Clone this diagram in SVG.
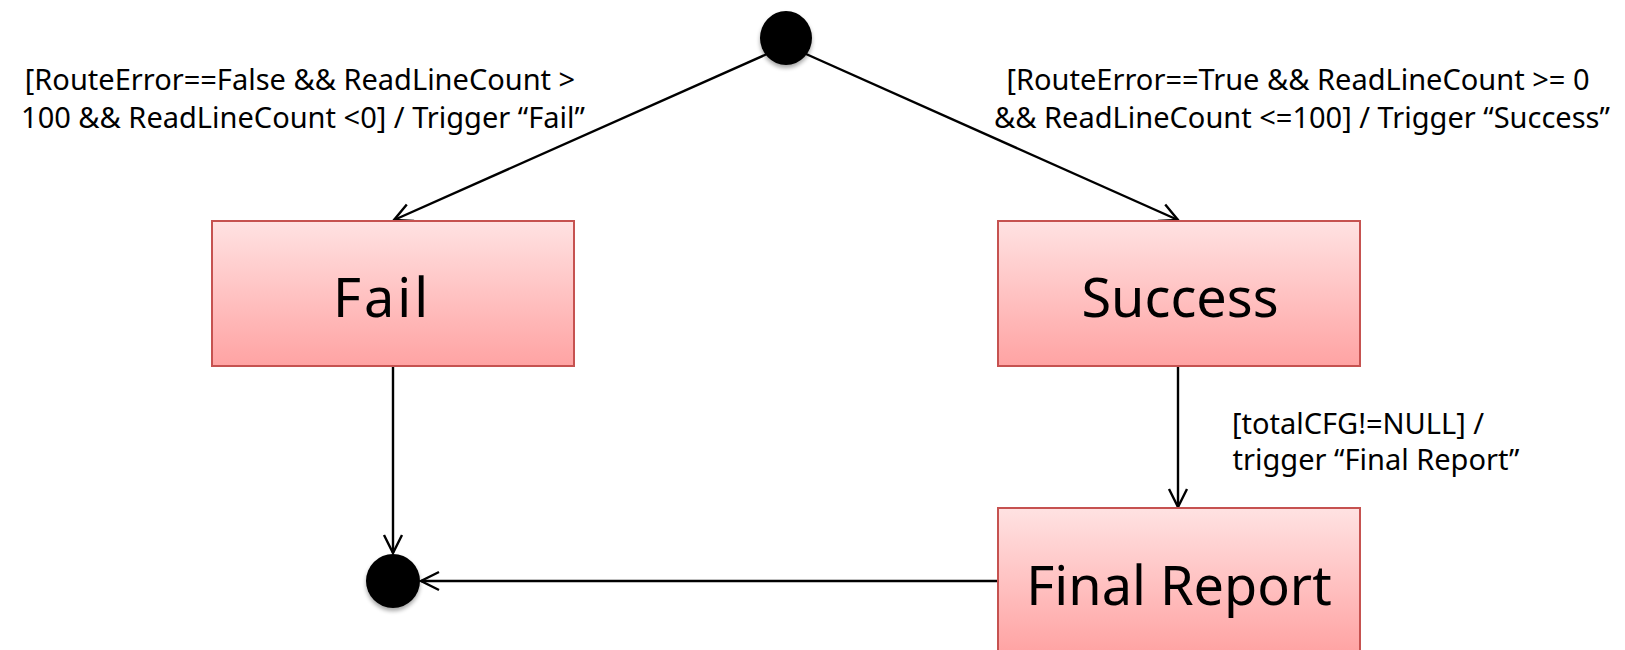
<svg xmlns="http://www.w3.org/2000/svg" width="1625" height="650" viewBox="0 0 1625 650">
<style>
.state rect{fill:url(#g);stroke:#C65250;stroke-width:2}
.state text{font-family:"Noto Sans",sans-serif;font-size:54px;fill:#000;text-anchor:middle}
.lbl{font-family:"Noto Sans",sans-serif;font-size:29px;fill:#000;text-anchor:middle}
.conn line{stroke:#000;stroke-width:2.4;fill:none}
.dot{fill:#000}
</style>
<defs>
<linearGradient id="g" x1="0" y1="0" x2="0" y2="1">
<stop offset="0" stop-color="#FFE2E2"/>
<stop offset="1" stop-color="#FFA3A3"/>
</linearGradient>
<marker id="a" viewBox="0 0 24 24" refX="21" refY="12" markerWidth="24" markerHeight="24" markerUnits="userSpaceOnUse" orient="auto">
<path d="M3,3 L21,12 L3,21" fill="none" stroke="#000" stroke-width="2.4"/>
</marker>
<filter id="sh" x="-30%" y="-30%" width="160%" height="160%">
<feGaussianBlur in="SourceAlpha" stdDeviation="2"/>
<feOffset dy="3"/>
<feComponentTransfer><feFuncA type="linear" slope="0.35"/></feComponentTransfer>
<feMerge><feMergeNode/><feMergeNode in="SourceGraphic"/></feMerge>
</filter>
</defs>
<rect width="1625" height="650" fill="#fff"/>
<g id="connectors" class="conn">
<line x1="767" y1="54" x2="394" y2="220" marker-end="url(#a)"/>
<line x1="806" y1="54" x2="1178" y2="220" marker-end="url(#a)"/>
<line x1="393" y1="366" x2="393" y2="553" marker-end="url(#a)"/>
<line x1="1178" y1="366" x2="1178" y2="507" marker-end="url(#a)"/>
<line x1="998" y1="581" x2="421" y2="581" marker-end="url(#a)"/>
</g>
<g id="labels">
<text class="lbl" x="300" y="90">[RouteError==False &amp;&amp; ReadLineCount &gt;</text>
<text class="lbl" x="303" y="128">100 &amp;&amp; ReadLineCount &lt;0] / Trigger “Fail”</text>
<text class="lbl" x="1298" y="90">[RouteError==True &amp;&amp; ReadLineCount &gt;= 0</text>
<text class="lbl" x="1302" y="128">&amp;&amp; ReadLineCount &lt;=100] / Trigger “Success”</text>
<text class="lbl" x="1358" y="434">[totalCFG!=NULL] /</text>
<text class="lbl" x="1376" y="470">trigger “Final Report”</text>
</g>
<g id="initial"><ellipse class="dot" cx="786" cy="38" rx="26" ry="27" filter="url(#sh)"/></g>
<g id="fail" class="state"><rect x="212" y="221" width="362" height="145"/><text x="382" y="317" letter-spacing="3">Fail</text></g>
<g id="success" class="state"><rect x="998" y="221" width="362" height="145"/><text x="1180" y="317">Success</text></g>
<g id="finalreport" class="state"><rect x="998" y="508" width="362" height="145"/><text x="1179" y="605">Final Report</text></g>
<g id="final"><ellipse class="dot" cx="393" cy="581" rx="27" ry="27" filter="url(#sh)"/></g>
</svg>
